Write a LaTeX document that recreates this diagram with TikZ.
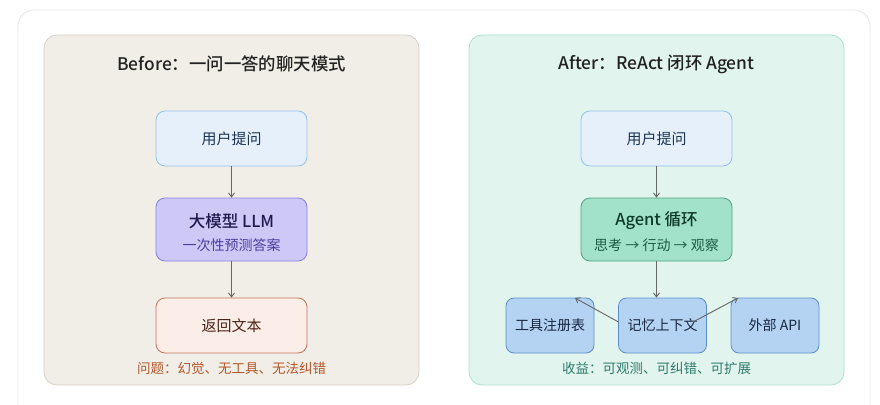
\documentclass[tikz,border=0pt]{standalone}
\usepackage{fontspec}
\setmainfont{Noto Sans CJK SC}
\newfontfamily\medfont{Noto Sans CJK SC Medium}
\usetikzlibrary{arrows.meta}
\definecolor{outerbd}{HTML}{E6E6E6}
\definecolor{lpfill}{HTML}{F1EEE7}
\definecolor{lpdraw}{HTML}{D6D1C8}
\definecolor{rpfill}{HTML}{E1F4ED}
\definecolor{rpdraw}{HTML}{A9E3CB}
\definecolor{qfill}{HTML}{E5F0FB}
\definecolor{qdraw}{HTML}{93C2EE}
\definecolor{qtext}{HTML}{1C3553}
\definecolor{llmfill}{HTML}{CDC8F6}
\definecolor{llmdraw}{HTML}{8A80DD}
\definecolor{llmtext}{HTML}{1F1A4D}
\definecolor{llmsub}{HTML}{4A3D9C}
\definecolor{retfill}{HTML}{FBEDE7}
\definecolor{retdraw}{HTML}{C4735A}
\definecolor{rettext}{HTML}{4A2317}
\definecolor{lcap}{HTML}{B3582C}
\definecolor{agfill}{HTML}{A2E2CA}
\definecolor{agdraw}{HTML}{4FA283}
\definecolor{agtext}{HTML}{0E3A2C}
\definecolor{agsub}{HTML}{1B5A43}
\definecolor{btfill}{HTML}{B4D3F3}
\definecolor{btdraw}{HTML}{5B8FCC}
\definecolor{bttext}{HTML}{17263D}
\definecolor{rcap}{HTML}{2F7B6B}
\definecolor{arr}{HTML}{666666}
\definecolor{ttl}{HTML}{222222}
\tikzset{
  box/.style={draw, rounded corners=9pt, line width=0.8pt, minimum width=151pt, align=center, inner sep=0pt},
  qbox/.style={box, fill=qfill, draw=qdraw, text=qtext, minimum height=55pt, font=\fontsize{15}{18}\selectfont},
  llmbox/.style={box, fill=llmfill, draw=llmdraw, minimum height=63pt},
  retbox/.style={box, fill=retfill, draw=retdraw, text=rettext, minimum height=55pt, font=\fontsize{15}{18}\selectfont},
  agbox/.style={box, fill=agfill, draw=agdraw, minimum height=63pt},
  btbox/.style={draw, rounded corners=8pt, line width=0.8pt, fill=btfill, draw=btdraw, text=bttext, minimum width=88pt, minimum height=55pt, inner sep=0pt, font=\fontsize{14}{17}\selectfont},
  ttlstyle/.style={text=ttl, font=\medfont\fontsize{17.4}{20}\selectfont},
  capstyle/.style={font=\fontsize{13.5}{16}\selectfont},
  conn/.style={draw=arr, line width=0.9pt, -{Straight Barb[length=4pt,width=6pt]}}
}
\begin{document}
\begin{tikzpicture}[x=1pt,y=-1pt]
\useasboundingbox (0,0) rectangle (880,404);
\clip (0,0) rectangle (880,404);
\draw[outerbd, fill=white, line width=0.8pt, rounded corners=16pt] (18,10) rectangle (870,430);
% panels
\draw[lpdraw, fill=lpfill, line width=0.8pt, rounded corners=13pt] (44,35) rectangle (419,385);
\draw[rpdraw, fill=rpfill, line width=0.8pt, rounded corners=13pt] (469,35) rectangle (844,385);
% left
\node[ttlstyle] (lt) at (231.5,64) {Before：一问一答的聊天模式};
\node[qbox] (q1) at (231.5,138.5) {用户提问};
\node[llmbox] (llm) at (231.5,229.5) {};
\node[text=llmtext, font=\medfont\fontsize{16.5}{20}\selectfont] (llmt) at (231.5,221) {大模型 LLM};
\node[text=llmsub, font=\fontsize{14}{17}\selectfont] (llms) at (231.5,245) {一次性预测答案};
\node[retbox] (ret) at (231.5,325.5) {返回文本};
\node[capstyle, text=lcap] (lc) at (231.5,368) {问题：幻觉、无工具、无法纠错};
\draw[conn] (q1.south) -- (llm.north);
\draw[conn] (llm.south) -- (ret.north);
% right
\node[ttlstyle] (rt) at (656.5,64) {After：ReAct 闭环 Agent};
\node[qbox] (q2) at (656.5,138.5) {用户提问};
\node[agbox] (ag) at (656.5,229.5) {};
\node[text=agtext, font=\medfont\fontsize{16.5}{20}\selectfont] (agt) at (656.5,221) {Agent 循环};
\node[text=agsub, font=\fontsize{14}{17}\selectfont] (ags) at (656.5,245) {思考 → 行动 → 观察};
\node[btbox] (tools) at (550,325.5) {工具注册表};
\node[btbox] (mem) at (662.5,325.5) {记忆上下文};
\node[btbox] (api) at (775,325.5) {外部 API};
\node[capstyle, text=rcap] (rc) at (656.5,368) {收益：可观测、可纠错、可扩展};
\draw[conn] (q2.south) -- (ag.north);
\draw[conn] (ag.south) -- (ag.south |- mem.north);
\coordinate (m1) at (618.5,322);
\coordinate (t1) at (575,298);
\coordinate (m2) at (693,322);
\coordinate (a1) at (738,298);
\draw[conn] (m1) -- (t1);
\draw[conn] (m2) -- (a1);
\end{tikzpicture}
\end{document}
